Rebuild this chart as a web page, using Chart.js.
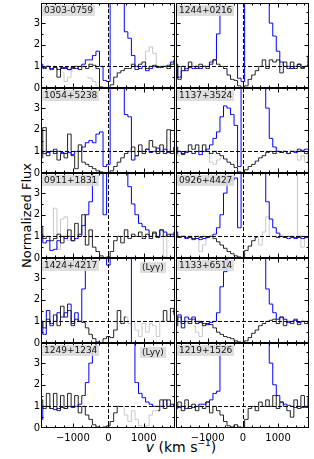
<!DOCTYPE html>
<html><head><meta charset="utf-8">
<script src="https://cdn.jsdelivr.net/npm/chart.js@4/dist/chart.umd.min.js"></script>
<style>
body{margin:0;background:#fff;}
#wrap{position:relative;width:314px;height:459px;overflow:hidden;background:#fff;font-family:"DejaVu Sans",sans-serif;}
canvas{position:absolute;}
.lbl{position:absolute;background:rgba(218,218,218,0.9);font-size:9px;line-height:11px;padding:0 2px;color:#111;white-space:nowrap;z-index:5;}
#ytitle{position:absolute;left:-34px;top:208px;width:120px;text-align:center;font-size:13px;transform:rotate(-90deg);color:#000;}
#xtitle{position:absolute;left:126px;top:438px;width:110px;text-align:center;font-size:14px;color:#000;}
</style></head>
<body><div id="wrap"><div id="ytitle">Normalized Flux</div><div id="xtitle"><i>v</i> (km s<sup style="font-size:9px">−1</sup>)</div></div>
<script>
const N = null;
const velocity = [-1900,-1800,-1700,-1600,-1500,-1400,-1300,-1200,-1100,-1000,-900,-800,-700,-600,-500,-400,-300,-200,-100,0,100,200,300,400,500,600,700,800,900,1000,1100,1200,1300,1400,1500,1600,1700,1800,1900];
const xTickValues = [-1000, 0, 1000];
const yTickValues = [0, 1, 2, 3];
const panelNames = ['0303-0759','1244+0216','1054+5238','1137+3524','0911+1831','0926+4427','1424+4217','1133+6514','1249+1234','1219+1526'];
const lyGammaPanels = ['1424+4217','1249+1234'];

const blue_0303 = [1.1,0.95,1.0,0.9,0.95,0.85,0.95,0.9,0.85,0.95, 0.9,1.0,1.1,1.3,1.3,1.5,1.7,1.0,0.35,0.3, 4.5,4.5,4.5,4.5,2.6,2.3,1.5,1.0,0.9,1.0, 0.8,0.9,1.0,0.95,0.95,1.0,1.05,1.2,1.3];
const black_0303 = [1.0,0.9,1.0,0.85,0.95,0.5,0.9,0.95,0.85,0.9, 1.0,0.85,1.0,0.9,1.1,1.05,0.9,0.05,0.0,0.0, 0.15,0.5,0.7,0.8,0.9,0.9,1.1,0.85,1.1,1.2, 0.9,1.0,1.05,1.0,1.0,1.0,0.9,1.1,1.2];
const grey_0303 = [N,N,N,N,N,N,0.7,0.3,0.5,0.8, N,N,N,0.5,0.45,0.3,0.1,N,N,N, N,N,N,N,N,N,N,N,N,1.1, 1.7,1.9,1.6,1.0,N,N,N,N,N];

const blue_1244 = [1.1,0.5,0.8,0.9,0.95,0.9,1.0,0.9,1.0,1.0, 1.1,1.3,2.5,4.5,4.5,4.5,4.5,4.5,0.45,0.3, 4.5,4.5,4.5,4.5,4.5,4.5,4.5,3.0,2.4,1.7, 1.2,1.0,1.0,0.9,1.0,1.1,0.95,1.0,1.1];
const black_1244 = [1.0,0.4,1.0,0.8,1.2,1.0,0.9,1.1,1.0,0.9, 1.2,1.3,1.1,1.0,0.9,0.6,0.4,0.35,0.1,0.0, 0.1,0.4,0.6,0.8,1.0,1.3,0.9,1.3,1.2,1.3, 0.7,1.2,0.9,1.2,0.9,1.1,0.9,1.0,1.5];
const grey_1244 = [];

const blue_1054 = [1.0,0.9,0.95,1.0,0.9,1.0,0.95,0.9,0.95,0.85, 1.0,1.0,1.2,1.4,1.5,1.4,1.8,1.9,0.3,0.4, 4.5,4.5,4.5,4.5,2.7,2.6,0.6,0.8,1.0,1.0, 1.1,0.95,1.0,1.15,1.0,1.1,0.95,1.0,1.2];
const black_1054 = [0.7,2.1,0.8,1.0,1.1,0.6,0.9,0.7,1.8,0.8, 0.2,1.3,0.5,0.4,0.3,0.2,0.1,0.05,0.0,0.0, 0.1,0.3,0.5,0.7,0.9,1.0,1.2,0.8,1.3,0.9, 1.1,1.5,1.2,0.9,1.3,0.9,2.0,0.9,1.2];
const grey_1054 = [];

const blue_1137 = [1.2,1.0,0.9,0.95,1.0,0.9,1.0,0.85,1.0,1.1, 1.3,1.6,1.9,2.6,3.1,3.0,2.7,2.2,0.3,4.5, 4.5,4.5,4.5,4.5,4.5,4.5,3.0,1.6,1.2,1.0, 0.95,1.0,0.9,1.0,0.95,1.0,1.05,1.1,1.1];
const black_1137 = [0.9,1.0,0.85,1.0,1.3,1.1,1.3,1.0,1.3,1.0, 0.9,1.0,0.9,0.8,0.65,0.5,0.4,0.25,0.05,0.0, 0.15,0.3,0.4,0.55,0.7,0.8,0.95,1.0,0.9,1.0, 0.95,1.0,0.9,1.0,1.0,1.1,1.0,0.9,1.0];
const grey_1137 = [0.9,0.8,N,N,N,N,N,N,N,0.9, 0.5,0.4,0.6,0.7,N,N,N,N,N,N, N,N,N,N,N,N,N,N,N,N, N,N,N,N,0.9,0.6,0.8,0.5,0.9];

const blue_0911 = [1.1,0.7,0.8,0.35,0.4,0.8,1.0,0.9,1.0,0.8, 0.9,1.1,1.5,2.0,2.6,4.5,4.5,4.5,2.0,4.5, 4.5,4.5,4.5,4.5,4.5,3.3,2.5,2.0,1.6,1.45, 1.3,1.0,1.15,0.95,1.3,1.2,1.0,1.1,1.2];
const black_0911 = [1.4,0.9,1.0,0.8,0.9,1.1,0.7,1.0,1.3,0.8, 1.6,1.0,2.0,0.6,1.3,0.5,0.3,0.1,0.0,0.05, 0.3,0.8,1.0,0.7,1.3,0.9,1.1,1.0,1.2,0.9, 1.1,0.9,1.2,1.0,1.3,1.0,1.1,1.0,1.1];
const grey_0911 = [N,N,N,1.0,2.3,0.4,1.8,1.9,0.8,N, N,N,N,N,N,N,N,N,N,N, N,N,N,N,N,N,N,N,N,N, N,N,N,N,1.0,0.05,1.0,N,N];

const blue_0926 = [1.2,0.95,1.0,0.9,0.95,0.85,0.9,0.85,0.9,0.95, 1.0,1.1,1.4,2.0,3.0,3.6,3.6,3.7,1.4,4.5, 4.5,4.5,4.5,4.5,4.5,4.5,2.6,1.8,1.4,1.15, 1.0,0.95,0.9,0.95,0.9,0.95,0.9,0.95,1.0];
const black_0926 = [1.0,0.95,1.0,0.95,1.0,0.9,1.0,0.95,1.0,0.95, 1.0,0.9,0.75,0.6,0.45,0.3,0.2,0.1,0.05,0.0, 0.35,0.55,0.8,0.95,N,N,N,N,1.0,0.95, 1.0,0.95,1.0,1.0,0.95,1.0,1.0,0.95,1.0];
const grey_0926 = [N,N,N,N,N,N,0.9,0.3,0.6,0.9, N,N,N,N,N,N,N,N,N,N, N,N,N,0.95,0.6,1.2,1.9,1.0,N,N, N,N,N,4.5,4.5,1.0,0.5,0.9,N];

const blue_1424 = [1.0,0.4,1.5,0.8,1.0,1.4,1.2,1.4,1.8,0.9, 1.4,1.0,2.5,4.5,4.5,4.5,4.5,4.5,4.5,3.6, 4.5,4.5,4.5,4.5,4.5,4.5,0.0,N,N,N, N,N,N,N,N,N,N,N,N];
const black_1424 = [1.0,0.7,1.1,0.9,1.3,0.8,1.7,1.2,1.5,0.8, 1.1,1.0,0.95,0.7,0.4,0.2,0.05,0.0,0.2,0.3, 0.25,0.6,1.5,0.9,1.2,N,N,N,N,N, N,N,N,N,1.0,1.5,1.0,1.6,1.3];
const grey_1424 = [N,N,N,N,N,N,N,N,N,N, N,N,N,N,N,N,N,N,N,N, N,N,N,N,1.2,0.9,1.0,0.6,0.3,0.9, 0.5,0.9,0.8,0.3,1.0,N,N,N,N];

const blue_1133 = [1.0,1.3,0.9,1.2,1.1,1.2,0.9,1.0,0.9,0.85, 0.95,1.0,1.4,2.6,3.3,4.5,4.5,4.5,4.5,4.5, 4.5,4.5,4.5,4.5,4.5,4.5,2.5,1.8,1.4,1.1, 1.2,1.1,0.95,1.0,1.05,0.95,1.0,1.0,0.95];
const black_1133 = [0.8,1.2,0.7,1.0,0.9,1.1,1.0,0.95,0.8,0.9, 0.85,0.7,0.5,0.4,0.3,0.25,0.2,0.1,0.05,0.0, 0.1,0.25,0.45,0.6,0.8,0.9,1.0,1.05,1.1,0.9, 1.2,0.8,1.0,0.9,1.1,0.85,1.0,0.9,1.0];
const grey_1133 = [N,N,N,N,N,0.8,0.5,0.3,0.8,N];

const blue_1249 = [0.4,1.0,1.0,0.9,0.85,0.9,0.95,0.9,1.0,0.95, 1.0,1.1,1.5,2.1,3.0,3.6,4.5,4.5,4.5,4.5, 4.5,4.5,4.5,4.5,4.5,4.5,4.5,2.1,1.6,1.4, 1.2,1.1,1.0,1.0,1.0,1.3,1.0,1.1,1.0];
const black_1249 = [1.3,0.9,1.6,0.9,1.6,0.8,1.5,0.9,1.6,1.0, 1.5,0.7,1.0,0.6,0.4,0.15,0.05,0.0,0.05,0.1, 0.3,0.7,1.0,N,N,N,N,N,N,N, N,N,N,0.8,1.3,0.9,1.3,1.0,1.1];
const grey_1249 = [N,N,N,N,N,N,N,N,N,N, N,N,N,N,N,N,N,N,N,N, N,N,1.0,1.0,0.6,0.3,0.8,0.4,0.1,0.05, 0.1,0.6,0.8,0.8,N,N,N,N,N];

const blue_1219 = [1.0,0.95,1.0,0.9,1.0,0.95,1.0,1.1,1.1,1.2, 1.3,1.6,1.7,4.5,4.5,4.5,4.5,4.5,4.5,4.5, 4.5,4.5,4.5,4.5,4.5,4.5,4.5,3.0,2.0,1.5, 1.2,1.1,1.05,1.0,0.95,1.0,0.95,0.95,1.0];
const black_1219 = [0.9,1.2,0.8,1.3,0.9,1.1,0.8,1.0,0.9,1.2, 0.7,1.0,0.8,0.6,0.3,0.1,0.05,0.15,0.05,0.0, 0.4,0.9,1.0,0.8,1.2,1.0,1.3,1.0,1.5,0.9, 1.2,1.0,0.8,0.5,1.3,0.9,1.5,1.0,1.4];
const grey_1219 = [];

const series = [
  [blue_0303, black_0303, grey_0303],
  [blue_1244, black_1244, grey_1244],
  [blue_1054, black_1054, grey_1054],
  [blue_1137, black_1137, grey_1137],
  [blue_0911, black_0911, grey_0911],
  [blue_0926, black_0926, grey_0926],
  [blue_1424, black_1424, grey_1424],
  [blue_1133, black_1133, grey_1133],
  [blue_1249, black_1249, grey_1249],
  [blue_1219, black_1219, grey_1219]
];

// layout
const ROW_TOP = [3, 88, 173, 258, 343];
const ROW_H = 85;
const COL_LEFT = [41, 176];
const COL_W = [134, 133];
const X_MIN = -1900, X_MAX = 1880, Y_MIN = 0, Y_MAX = 3.93;

function pts(arr){ return velocity.map((v,k)=>({x:v, y: (k < arr.length ? arr[k] : null)})); }
function fmt(v){ return v < 0 ? '\u2212' + Math.abs(v) : String(v); }

const framePlugin = {
  id: 'frame',
  afterDatasetsDraw(chart){
    const {ctx, chartArea:a, scales} = chart;
    const xs = scales.x, ys = scales.y;
    ctx.save();
    ctx.strokeStyle = '#000'; ctx.lineWidth = 1; ctx.setLineDash([4,2]);
    const y1 = Math.round(ys.getPixelForValue(1)) + 0.5;
    ctx.beginPath(); ctx.moveTo(a.left, y1); ctx.lineTo(a.right, y1); ctx.stroke();
    const x0 = Math.round(xs.getPixelForValue(0)) + 0.5;
    ctx.beginPath(); ctx.moveTo(x0, a.top); ctx.lineTo(x0, a.bottom); ctx.stroke();
    ctx.setLineDash([]);
    const L = Math.round(a.left)+0.5, R = Math.round(a.right)-0.5, T = Math.round(a.top)+0.5, B = Math.round(a.bottom)-0.5;
    ctx.strokeRect(L, T, R-L, B-T);
    ctx.beginPath();
    for (let v = -1750; v <= 1750; v += 250) {
      const px = Math.round(xs.getPixelForValue(v)) + 0.5;
      const len = (v % 1000 === 0) ? 4 : 2;
      ctx.moveTo(px, B); ctx.lineTo(px, B - len);
      ctx.moveTo(px, T); ctx.lineTo(px, T + len);
    }
    for (let v = 0.5; v < Y_MAX; v += 0.5) {
      const py = Math.round(ys.getPixelForValue(v)) + 0.5;
      const len = (Math.abs(v - Math.round(v)) < 1e-6) ? 4 : 2;
      ctx.moveTo(L, py); ctx.lineTo(L + len, py);
      ctx.moveTo(R, py); ctx.lineTo(R - len, py);
    }
    ctx.stroke();
    ctx.restore();
  }
};

const wrap = document.getElementById('wrap');

panelNames.forEach((name, i) => {
  const row = Math.floor(i / 2), col = i % 2;
  const bottomRow = row === 4;
  const padT = 8, padB = bottomRow ? 2 : 8;
  const xAxisH = bottomRow ? 17 : 0;
  const yAxisW = col === 0 ? 21 : 0;
  const padL = col === 0 ? 6 : 3, padR = 3;
  const cw = padL + yAxisW + COL_W[col] + padR;
  const ch = padT + ROW_H + xAxisH + padB;
  const cv = document.createElement('canvas');
  cv.width = cw; cv.height = ch;
  cv.style.width = cw + 'px'; cv.style.height = ch + 'px';
  cv.style.left = (COL_LEFT[col] - yAxisW - padL) + 'px';
  cv.style.top = (ROW_TOP[row] - padT) + 'px';
  wrap.appendChild(cv);

  const [b, k, g] = series[i];
  const datasets = [
    {data: pts(k), borderColor: '#222222', borderWidth: 1, stepped: 'middle', pointRadius: 0, spanGaps: false, fill: false},
    {data: pts(b), borderColor: '#0000ff', borderWidth: 1, stepped: 'middle', pointRadius: 0, spanGaps: false, fill: false}
  ];
  if (g.length) datasets.push({data: pts(g), borderColor: '#c8c8c8', borderWidth: 1, stepped: 'middle', pointRadius: 0, spanGaps: false, fill: false});

  new Chart(cv, {
    type: 'line',
    data: {datasets},
    options: {
      responsive: false, animation: false, events: [],
      layout: {padding: {top: padT, bottom: padB, left: padL, right: padR}},
      plugins: {legend: {display: false}, tooltip: {enabled: false}},
      scales: {
        x: {
          type: 'linear', min: X_MIN, max: X_MAX, display: bottomRow,
          grid: {display: false, drawTicks: false}, border: {display: false},
          afterBuildTicks: s => { s.ticks = xTickValues.map(v => ({value: v})); },
          afterFit: s => { s.height = xAxisH; },
          ticks: {padding: 4, maxRotation: 0, color: '#000', font: {family: 'DejaVu Sans', size: 10}, callback: v => fmt(v)}
        },
        y: {
          type: 'linear', min: Y_MIN, max: Y_MAX, display: col === 0,
          grid: {display: false, drawTicks: false}, border: {display: false},
          afterBuildTicks: s => { s.ticks = yTickValues.map(v => ({value: v})); },
          afterFit: s => { s.width = yAxisW; },
          ticks: {padding: 1, color: '#000', font: {family: 'DejaVu Sans', size: 10}, callback: v => String(v)}
        }
      }
    },
    plugins: [framePlugin]
  });

  const lbl = document.createElement('div');
  lbl.className = 'lbl';
  lbl.textContent = name;
  lbl.style.left = (COL_LEFT[col] + 1) + 'px';
  lbl.style.top = (ROW_TOP[row] + 2) + 'px';
  wrap.appendChild(lbl);

  if (lyGammaPanels.includes(name)) {
    const ly = document.createElement('div');
    ly.className = 'lbl';
    ly.textContent = '(Ly\u03B3)';
    ly.style.left = (COL_LEFT[col] + COL_W[col] - 35) + 'px';
    ly.style.top = (ROW_TOP[row] + 4) + 'px';
    wrap.appendChild(ly);
  }
});
</script>
</body></html>
